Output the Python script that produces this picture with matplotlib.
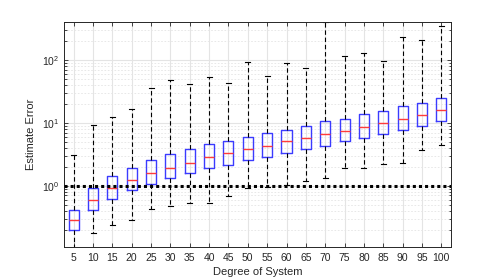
import matplotlib
matplotlib.use("Agg")
import matplotlib.pyplot as plt
import numpy as np

plt.rcParams['font.family'] = ['Liberation Sans', 'DejaVu Sans']

degrees = [5, 10, 15, 20, 25, 30, 35, 40, 45, 50, 55, 60, 65, 70, 75, 80, 85, 90, 95, 100]
whisk_lo = [0.08, 0.177, 0.237, 0.28, 0.43, 0.47, 0.54, 0.54, 0.69, 0.92,
            0.96, 1.01, 1.2, 1.34, 1.91, 1.88, 2.23, 2.3, 3.7, 4.4]
q1 = [0.20, 0.41, 0.61, 0.86, 1.06, 1.31, 1.57, 1.91, 2.1, 2.56,
      2.81, 3.3, 3.83, 4.26, 5.1, 5.8, 6.6, 7.8, 8.9, 10.7]
med = [0.28, 0.59, 0.92, 1.23, 1.59, 1.93, 2.29, 2.89, 3.3, 3.83,
       4.2, 5.1, 5.7, 6.6, 7.4, 8.6, 9.75, 11.6, 13.4, 16.1]
q3 = [0.41, 0.93, 1.43, 1.93, 2.6, 3.14, 3.83, 4.58, 5.18, 5.9,
      6.77, 7.55, 8.9, 10.5, 11.4, 13.7, 15.1, 18.4, 20.5, 25.2]
whisk_hi = [3.1, 9.2, 12.3, 16.5, 35.5, 48, 42, 53, 43, 93,
            56, 88, 74, 395, 117, 128, 95, 227, 205, 343]

stats = []
for i in range(len(degrees)):
    stats.append(dict(whislo=whisk_lo[i], q1=q1[i], med=med[i], q3=q3[i],
                      whishi=whisk_hi[i], fliers=[]))

fig = plt.figure(figsize=(4.98, 2.78), dpi=100)
ax = fig.add_axes([0.1285, 0.1115, 0.7771, 0.8095])

ax.bxp(stats, positions=degrees, widths=2.6, showfliers=False,
       boxprops=dict(color='#3b3bff', linewidth=1.0),
       medianprops=dict(color='#ff3b3b', linewidth=1.0),
       whiskerprops=dict(color='black', linestyle=(0, (4, 2.5)), linewidth=0.8),
       capprops=dict(color='black', linewidth=0.8),
       capwidths=1.3)

# reference line at error = 1
ax.axhline(1.0, color='black', linestyle=(0, (1, 1)), linewidth=2.2, zorder=5)

ax.set_yscale('log')
ax.set_ylim(0.106, 400)
ax.set_xlim(2.5, 102.5)
ax.set_xticks(degrees)
ax.set_xticklabels([str(d) for d in degrees])

ax.grid(True, which='major', color='#e4e4e4', linewidth=0.8, zorder=0)
ax.grid(True, which='minor', axis='y', color='#e4e4e4', linestyle=(0, (2, 2)), linewidth=0.6, zorder=0)
ax.set_axisbelow(True)

ax.tick_params(which='both', direction='in', top=True, right=True, labelsize=7.5,
               colors='#262626', width=0.6)
ax.tick_params(which='major', length=3)
ax.tick_params(which='minor', length=1.8)
ax.tick_params(axis='x', which='minor', top=False, bottom=False)
ax.tick_params(axis='x', pad=4)
for s in ax.spines.values():
    s.set_color('#262626')
    s.set_linewidth(0.7)

ax.set_xlabel('Degree of System', fontsize=8, color='#262626', labelpad=3)
ax.set_ylabel('Estimate Error', fontsize=8, color='#262626', labelpad=4)

fig.savefig('out.png', dpi=100)
